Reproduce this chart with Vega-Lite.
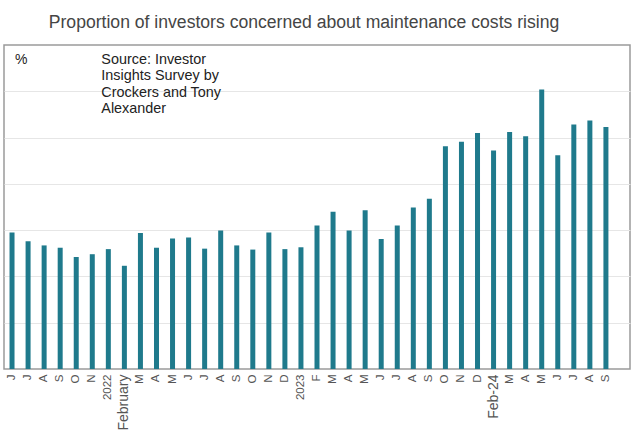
{
  "$schema": "https://vega.github.io/schema/vega-lite/v6.json",
  "autosize": {"type": "none"},
  "padding": {"left": 4, "top": 45, "right": 7, "bottom": 70},
  "width": 626,
  "height": 324,
  "background": "white",
  "title": {
    "text": "Proportion of investors concerned about maintenance costs rising",
    "font": "Liberation Sans",
    "fontSize": 17.6,
    "fontWeight": "normal",
    "color": "#454545",
    "anchor": "middle",
    "dx": -13,
    "offset": 13
  },
  "config": {
    "view": {"stroke": "#9a9a9a", "strokeWidth": 1.5},
    "axis": {"labelFont": "Liberation Sans"}
  },
  "data": {
    "values": [
      {"month": "2021-06", "value": 29.5},
      {"month": "2021-07", "value": 27.6},
      {"month": "2021-08", "value": 26.7},
      {"month": "2021-09", "value": 26.2},
      {"month": "2021-10", "value": 24.2},
      {"month": "2021-11", "value": 24.8},
      {"month": "2022-01", "value": 25.9},
      {"month": "2022-02", "value": 22.3},
      {"month": "2022-03", "value": 29.4},
      {"month": "2022-04", "value": 26.2},
      {"month": "2022-05", "value": 28.2},
      {"month": "2022-06", "value": 28.4},
      {"month": "2022-07", "value": 26.0},
      {"month": "2022-08", "value": 29.9},
      {"month": "2022-09", "value": 26.7},
      {"month": "2022-10", "value": 25.8},
      {"month": "2022-11", "value": 29.5},
      {"month": "2022-12", "value": 25.9},
      {"month": "2023-01", "value": 26.3},
      {"month": "2023-02", "value": 31.0},
      {"month": "2023-03", "value": 34.0},
      {"month": "2023-04", "value": 29.9},
      {"month": "2023-05", "value": 34.3},
      {"month": "2023-06", "value": 28.1},
      {"month": "2023-07", "value": 31.0},
      {"month": "2023-08", "value": 34.9},
      {"month": "2023-09", "value": 36.8},
      {"month": "2023-10", "value": 48.1},
      {"month": "2023-11", "value": 49.1},
      {"month": "2023-12", "value": 51.0},
      {"month": "2024-02", "value": 47.2},
      {"month": "2024-03", "value": 51.2},
      {"month": "2024-04", "value": 50.3},
      {"month": "2024-05", "value": 60.4},
      {"month": "2024-06", "value": 46.2},
      {"month": "2024-07", "value": 52.8},
      {"month": "2024-08", "value": 53.7},
      {"month": "2024-09", "value": 52.3}
    ]
  },
  "encoding": {
    "x": {
      "field": "month",
      "type": "ordinal",
      "sort": null,
      "scale": {"paddingInner": 0, "paddingOuter": 0.5, "align": 0},
      "axis": {
        "title": null,
        "labelAngle": -90,
        "labelFontSize": {"condition": {"test": "datum.value == '2022-02' || datum.value == '2024-02'", "value": 14}, "value": 11.5},
        "labelColor": "#555555",
        "labelPadding": 5,
        "ticks": false,
        "domain": false,
        "labelExpr": "datum.value == '2022-01' ? '2022' : datum.value == '2023-01' ? '2023' : datum.value == '2022-02' ? 'February' : datum.value == '2024-02' ? 'Feb-24' : substring('JFMAMJJASOND', toNumber(substring(datum.value,5,7))-1, toNumber(substring(datum.value,5,7)))"
      }
    }
  },
  "layer": [
    {
      "mark": {"type": "bar", "size": 5, "color": "#1f7a8c"},
      "encoding": {
        "y": {
          "field": "value",
          "type": "quantitative",
          "scale": {"domain": [0, 70], "nice": false},
          "axis": {
            "title": null,
            "labels": false,
            "ticks": false,
            "domain": false,
            "values": [10, 20, 30, 40, 50, 60],
            "gridColor": "#e6e6e6",
            "gridWidth": 1.2
          }
        }
      }
    },
    {
      "data": {"values": [{}]},
      "mark": {"type": "text", "text": "%", "align": "left", "baseline": "alphabetic", "font": "Liberation Sans", "fontSize": 14, "color": "#222222", "dx": 11},
      "encoding": {
        "x": {"datum": "2021-06", "bandPosition": 0},
        "y": {"datum": 65.9}
      }
    },
    {
      "data": {"values": [{}]},
      "mark": {"type": "text", "text": ["Source: Investor", "Insights Survey by", "Crockers and Tony", "Alexander"], "align": "left", "baseline": "alphabetic", "lineHeight": 16.3, "font": "Liberation Sans", "fontSize": 14.4, "color": "#222222", "dx": 1},
      "encoding": {
        "x": {"datum": "2022-01", "bandPosition": 0},
        "y": {"datum": 65.9}
      }
    }
  ]
}
